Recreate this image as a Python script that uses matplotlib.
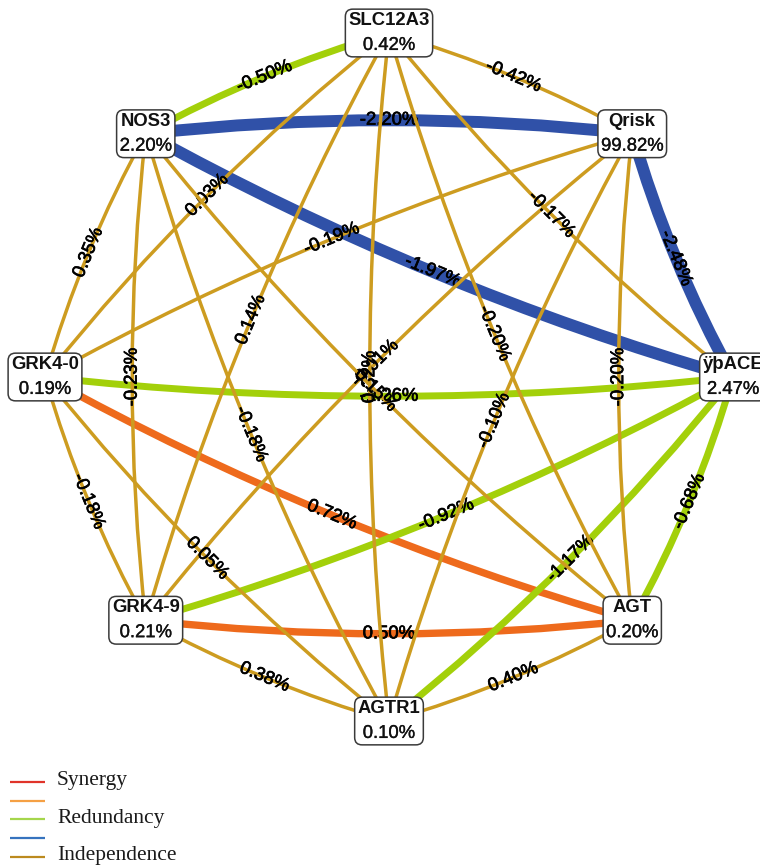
import numpy as np
import matplotlib
matplotlib.use("Agg")
import matplotlib.pyplot as plt
import matplotlib.patheffects as pe
from matplotlib.path import Path
from matplotlib.patches import PathPatch

# attributes, in layout order (counter-clockwise starting at 45 degrees)
genes = ['Qrisk', 'SLC12A3', 'NOS3', 'GRK4-0', 'GRK4-9', 'AGTR1', 'AGT', 'ÿþACE']
gene_gain = [99.82, 0.42, 2.20, 0.19, 0.21, 0.10, 0.20, 2.47]

# pairwise interaction information gain (%)
edge_a = [0, 0, 0, 0, 0, 0, 0, 1, 1, 1, 1, 1, 1, 2, 2, 2, 2, 2, 3, 3, 3, 3, 4, 4, 4, 5, 5, 6]
edge_b = [1, 2, 3, 4, 5, 6, 7, 2, 3, 4, 5, 6, 7, 3, 4, 5, 6, 7, 4, 5, 6, 7, 5, 6, 7, 6, 7, 7]
edge_gain = [-0.42, -2.20, -0.19, -0.01, -0.10, -0.20, -2.48,
             -0.50, 0.03, 0.14, 0.32, -0.20, -0.17,
             0.35, -0.23, -0.18, 0.15, -1.97,
             -0.18, 0.05, 0.72, -1.26,
             0.38, 0.50, -0.92,
             0.40, -1.17,
             -0.68]
edge_kind = ['ind', 'red_strong', 'ind', 'ind', 'ind', 'ind', 'red_strong',
             'red', 'ind', 'ind', 'ind', 'ind', 'ind',
             'ind', 'ind', 'ind', 'ind', 'red_strong',
             'ind', 'ind', 'syn', 'red',
             'ind', 'syn', 'red',
             'ind', 'red',
             'red']

kind_color = {'syn_strong': '#E0342A', 'syn': '#EE6A1C', 'ind': '#CD9C20',
              'red': '#A3D00A', 'red_strong': '#3051A8'}
kind_width = {'syn_strong': 8.5, 'syn': 5.3, 'ind': 2.5, 'red': 5.0, 'red_strong': 8.6}

legend_labels = ['Synergy', '', 'Redundancy', '', 'Independence']
legend_colors = ['#E0342A', '#F5A044', '#A5D64C', '#3673BE', '#BC8A1E']

W, H = 760, 868
fig = plt.figure(figsize=(W / 100, H / 100), dpi=100)
ax = fig.add_axes([0, 0, 1, 1])
ax.set_xlim(0, W)
ax.set_ylim(H, 0)
ax.axis('off')

# circular layout in pixel space (y grows downward)
cx, cy, radius = 389, 377, 344
ang = np.deg2rad(45 + 45 * np.arange(len(genes)))
px = cx + radius * np.cos(ang)
py = cy - radius * np.sin(ang)

heavier = [pe.withStroke(linewidth=0.5, foreground='black')]
label_font = dict(family='Liberation Sans', fontsize=13.3, color='black', path_effects=heavier)

# coloured edges first, independence edges over them; each label sits just above its edge
order = sorted(range(len(edge_a)), key=lambda k: edge_kind[k] == 'ind')
for z, k in enumerate(order):
    a, b = edge_a[k], edge_b[k]
    p0 = np.array([px[a], py[a]])
    p1 = np.array([px[b], py[b]])
    d = p1 - p0
    L = np.hypot(*d)
    n = np.array([-d[1], d[0]]) / L          # right-hand side of travel
    sag = 0.028 * L
    ctrl = (p0 + p1) / 2 + 2 * sag * n
    path = Path([p0, ctrl, p1], [Path.MOVETO, Path.CURVE3, Path.CURVE3])
    ax.add_patch(PathPatch(path, facecolor='none', edgecolor=kind_color[edge_kind[k]],
                           lw=kind_width[edge_kind[k]], capstyle='butt', zorder=2 + 0.01 * z))
    mid = (p0 + p1) / 2 + sag * n
    rot = np.degrees(np.arctan2(-d[1], d[0]))
    if rot > 90:
        rot -= 180
    elif rot <= -90:
        rot += 180
    ax.text(mid[0], mid[1], f'{edge_gain[k]:.2f}%', rotation=rot, rotation_mode='anchor',
            ha='center', va='center', zorder=2.005 + 0.01 * z, **label_font)

# node boxes: invisible text carries the box, two overlaid lines carry the text
for i, g in enumerate(genes):
    pct = f'{gene_gain[i]:.2f}%'
    common = dict(ha='center', va='center', family='Liberation Sans', fontsize=13.3,
                  linespacing=1.6, zorder=6)
    ax.text(px[i], py[i], f'{g}\n{pct}', color=(0, 0, 0, 0), fontweight='bold',
            bbox=dict(boxstyle='round,pad=0.16,rounding_size=0.4', facecolor='white',
                      edgecolor='#3a3a3a', lw=1.1), **common)
    ax.text(px[i], py[i], f'{g}\n ', color='#111111', fontweight='bold', **common)
    ax.text(px[i], py[i], f' \n{pct}', color='#111111',
            path_effects=[pe.withStroke(linewidth=0.25, foreground='#111111')], **common)

# legend
for i, (lab, col) in enumerate(zip(legend_labels, legend_colors)):
    y = 782 + 18.7 * i
    ax.plot([10, 45], [y, y], color=col, lw=1.6, solid_capstyle='butt')
    if lab:
        ax.text(57, y - 1, lab, ha='left', va='center', family='Liberation Serif',
                fontsize=15.5, color='#1a1a1a')

fig.savefig('out.png', dpi=100)
